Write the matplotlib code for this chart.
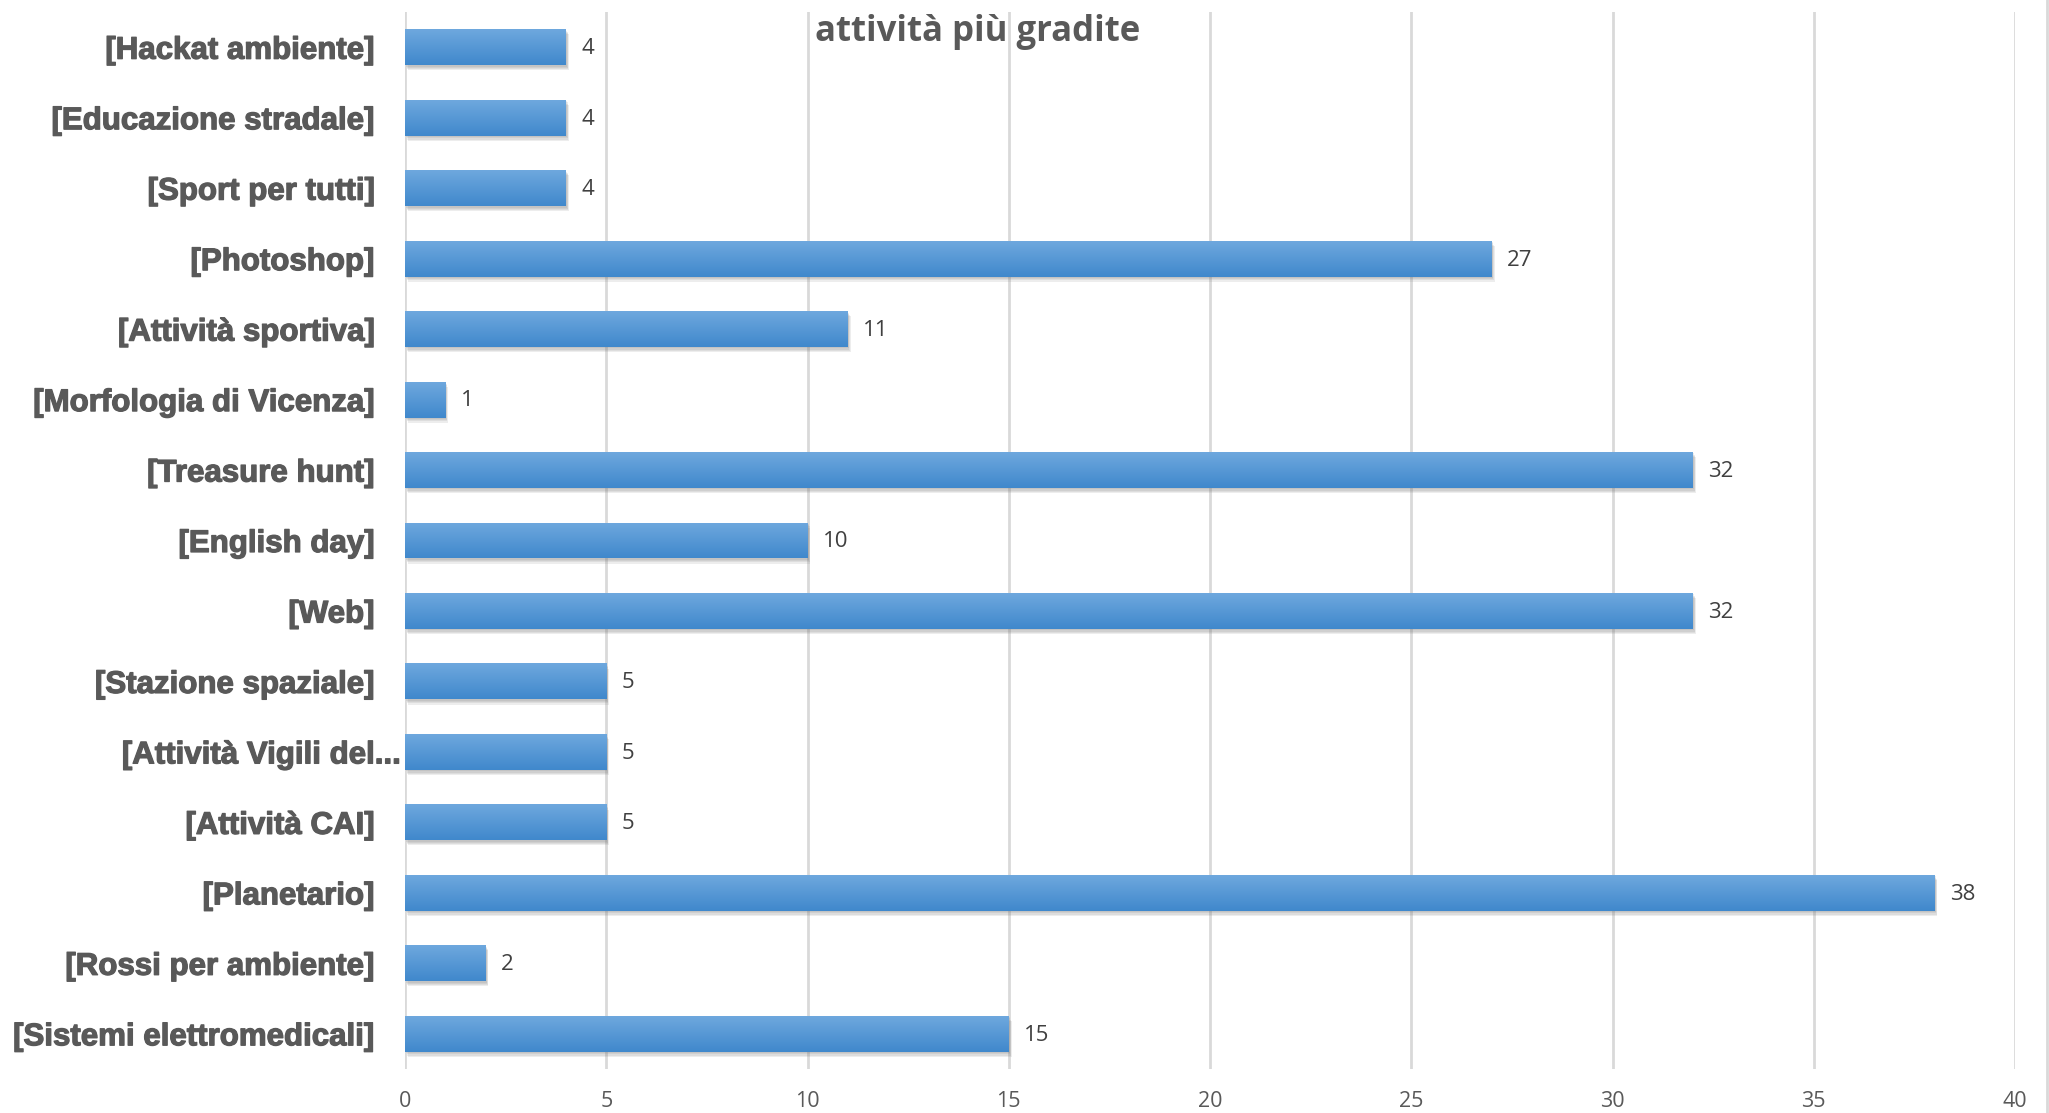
import numpy as np
import matplotlib.pyplot as plt
import matplotlib.patheffects as pe
from matplotlib.lines import Line2D
from matplotlib.transforms import ScaledTranslation

# Data, bottom to top as in the sheet
categories = ['[Sistemi elettromedicali]', '[Rossi per ambiente]', '[Planetario]',
              '[Attività CAI]', '[Attività Vigili del...', '[Stazione spaziale]',
              '[Web]', '[English day]', '[Treasure hunt]', '[Morfologia di Vicenza]',
              '[Attività sportiva]', '[Photoshop]', '[Sport per tutti]',
              '[Educazione stradale]', '[Hackat ambiente]']
values = [15, 2, 38, 5, 5, 5, 32, 10, 32, 1, 11, 27, 4, 4, 4]
xticks = [0, 5, 10, 15, 20, 25, 30, 35, 40]
title = 'attività più gradite'

W, H = 2049, 1113
fig = plt.figure(figsize=(W / 100, H / 100), dpi=100)
ax = fig.add_axes([405 / W, 1 - 1069 / H, (2015 - 405) / W, (1069 - 12) / H])

ypos = np.arange(len(categories))
bh = 0.51

# gradient image for the bar fill (light at top, darker at bottom)
grad = np.linspace(0, 1, 64).reshape(-1, 1)
top = np.array([110, 168, 222]) / 255
bot = np.array([64, 136, 204]) / 255
img = top + (bot - top) * grad[:, :, None] * np.ones((1, 2, 1))

shadow = [pe.SimplePatchShadow(offset=(0.8 + 0.4 * k, -1.0 - 0.9 * k), shadow_rgbFace='#707070', alpha=0.12)
          for k in range(4)]
bars = ax.barh(ypos, values, height=bh, color='#5B9BD5', zorder=3,
               path_effects=shadow + [pe.Normal()])
for b in bars:
    x0, y0 = b.get_x(), b.get_y()
    im = ax.imshow(img, extent=[x0, x0 + b.get_width(), y0, y0 + b.get_height()],
                   aspect='auto', zorder=4, interpolation='bilinear')
    im.set_clip_path(b)

for y, v in zip(ypos, values):
    ax.annotate(str(v), xy=(v, y), xytext=(11, -1), textcoords='offset points',
                va='center', ha='left', fontsize=16, family='Open Sans', color='#404040')

ax.set_xlim(0, 40)
ax.set_ylim(-0.5, len(categories) - 0.5)
ax.set_xticks(xticks)
ax.set_xticklabels([str(t) for t in xticks], fontsize=15.5, family='Open Sans', color='#595959')
ax.set_yticks(ypos)
ax.set_yticklabels(categories, fontsize=22.5, family='Liberation Sans', fontweight='bold', color='#595959')
ax.tick_params(axis='both', length=0)
ax.tick_params(axis='y', pad=22)
ax.tick_params(axis='x', pad=16)
for lab in ax.get_yticklabels():
    lab.set_path_effects([pe.withStroke(linewidth=0.9, foreground='#595959')])
    if lab.get_text().endswith('...'):
        lab.set_transform(lab.get_transform() + ScaledTranslation(26 / 100, 0, fig.dpi_scale_trans))

ax.grid(axis='x', color='#D9D9D9', linewidth=2, zorder=0)
ax.set_axisbelow(True)
for s in ax.spines.values():
    s.set_visible(False)

fig.add_artist(Line2D([2047 / W, 2047 / W], [0, 1], transform=fig.transFigure, color='#D9D9D9', linewidth=2))
fig.text(978 / W, 1 - 32 / H, title, ha='center', va='center', fontsize=25,
         family='Open Sans', fontweight='bold', color='#595959')

fig.savefig('out.png', dpi=100)
